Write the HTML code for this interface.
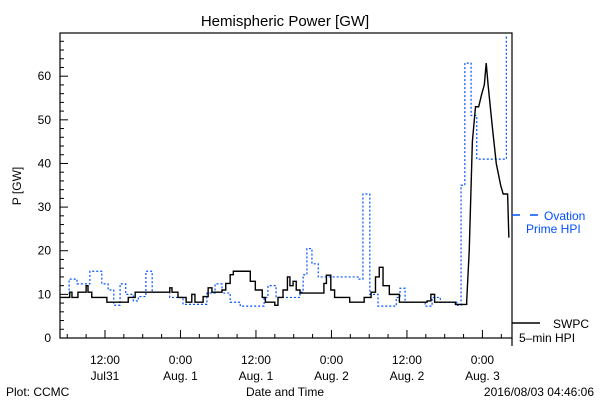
<!DOCTYPE html>
<html><head><meta charset="utf-8"><style>
body{margin:0;background:#fff}
svg text{font-family:"Liberation Sans",sans-serif;font-size:12px}
</style></head><body>
<svg width="600" height="400" xmlns="http://www.w3.org/2000/svg">
<rect width="600" height="400" fill="#fff"/>
<text x="285" y="26" text-anchor="middle" style="font-size:15px">Hemispheric Power [GW]</text>
<text transform="translate(21,186) rotate(-90)" text-anchor="middle">P [GW]</text>
<text x="285" y="396" text-anchor="middle">Date and Time</text>
<text x="6" y="396">Plot: CCMC</text>
<text x="594" y="396" text-anchor="end">2016/08/03 04:46:06</text>
<g id="axes"></g>
<g id="series"></g>
<g>
<line x1="512" y1="215" x2="520" y2="215" stroke="#0050ff" stroke-width="1.5"/>
<line x1="530" y1="215" x2="538" y2="215" stroke="#0050ff" stroke-width="1.5"/>
<text x="544" y="220" fill="#0050ff">Ovation</text>
<text x="526" y="233" fill="#0050ff">Prime HPI</text>
</g>
<g>
<line x1="512" y1="323" x2="540" y2="323" stroke="#000" stroke-width="1.5"/>
<text x="553" y="328">SWPC</text>
<text x="519" y="342">5–min HPI</text>
</g>
</svg>
<script>
const yTicks=[0,10,20,30,40,50,60];
const xTickHours=[12,24,36,48,60,72];
const xTickTop=["12:00","0:00","12:00","0:00","12:00","0:00"];
const xTickBottom=["Jul31","Aug. 1","Aug. 1","Aug. 2","Aug. 2","Aug. 3"];
const swpcHours=[4.85,6.4,6.75,7.7,9.0,9.3,9.9,12.3,15.7,16.8,22.3,22.65,23.6,24.9,25.8,26.3,27.6,28.4,29.0,30.6,31.2,31.9,32.4,34.3,35.1,35.9,37.0,37.5,39.0,39.5,40.3,41.0,41.4,41.9,42.4,43.0,46.2,46.8,47.2,47.9,48.5,50.1,50.9,53.2,54.3,55.0,55.6,56.2,57.2,58.8,63.2,63.8,64.4,67.7,69.5,69.9,70.4,70.9,71.4,71.9,72.3,72.6,72.9,73.6,74.2,74.9,75.3,76.0,76.2];
const swpcValues=[9.3,10.5,9.3,10.5,12,10.5,9.3,8.2,9.3,10.5,11.5,10.5,9.3,8.2,10,8.2,9.5,11.5,10.5,11,12.5,14.5,15.3,15.3,13,11,9.3,8.2,7.5,9.3,11,14,12,13,11,10.3,10.3,12.5,14.4,11,9.3,9.3,8.2,9.3,10.5,14,16.2,12,10,8.2,8.5,10,8.2,7.7,8.5,20,45,53,53,56,58,63,58,48,40,35,33,33,23];
const ovationHours=[4.85,6.3,7.55,9.6,11.5,12.5,13.4,14.4,15.3,16.5,17.3,18.5,19.5,22.3,24.4,28.2,29.5,30.6,31.9,33.5,37.3,37.9,39.2,43.0,43.5,44.1,44.9,45.9,52.2,53.0,54.1,55.4,58.3,58.9,59.7,62.9,64.0,65.3,67.9,68.6,69.2,70.2,71.1,75.8,76.1];
const ovationValues=[9.3,13.5,12.4,15.3,12.4,11,7.5,12.4,10,8.5,9.5,15.3,10.5,9.3,7.7,10.3,12.4,10.3,8.2,7.3,9.3,12,9.3,10.5,14.5,20.5,17,14,13.5,33,10,7.3,9.3,11.4,8.2,7.3,9.3,8.2,7.5,35,63,51,41,69,69];
const L=60,R=512,T=33,B=338,h0=4.85,h1=76.7,vMax=69.9;
const xS=h=>L+(h-h0)*(R-L)/(h1-h0);
const yS=v=>B-v*(B-T)/vMax;
const NS="http://www.w3.org/2000/svg";
const ax=document.getElementById('axes'),sg=document.getElementById('series');
function mk(p,tag,attrs){const e=document.createElementNS(NS,tag);for(const k in attrs)e.setAttribute(k,attrs[k]);p.appendChild(e);return e;}
const frame=mk(ax,'rect',{x:L,y:T,width:R-L,height:B-T,fill:'none',stroke:'#000','stroke-width':1.2});


const ext=mk(ax,'line',{x1:R,x2:R,y1:B,y2:346,stroke:'#000','stroke-width':1.2});


for(let v=0;v<=vMax;v+=2){const big=v%10===0;const t=mk(ax,'line',{x1:L,x2:L+(big?8:4),y1:yS(v),y2:yS(v),stroke:'#000'});

}
yTicks.forEach(v=>{const t=mk(ax,'text',{x:L-9,y:yS(v)+4,'text-anchor':'end'});t.textContent=v;

});
for(let h=6;h<h1;h+=3){const big=h%12===0;const t=mk(ax,'line',{x1:xS(h),x2:xS(h),y1:B,y2:B-(big?8:4),stroke:'#000'});

}
xTickHours.forEach((h,i)=>{const a=mk(ax,'text',{x:xS(h),y:364,'text-anchor':'middle'});a.textContent=xTickTop[i];


const b=mk(ax,'text',{x:xS(h),y:380,'text-anchor':'middle'});b.textContent=xTickBottom[i];

});
function stepPath(hs,vs){let d='M'+xS(hs[0])+','+yS(vs[0]);for(let i=1;i<hs.length;i++){d+='H'+xS(hs[i])+'V'+yS(vs[i]);}return d;}
const ov=mk(sg,'path',{d:stepPath(ovationHours,ovationValues),fill:'none',stroke:'#0050ff','stroke-width':1.2,'stroke-dasharray':'2,2'});


let d='M'+xS(swpcHours[0])+','+yS(swpcValues[0]);
for(let i=1;i<swpcHours.length;i++){const storm=swpcHours[i]>69.8;d+=storm?'L'+xS(swpcHours[i])+','+yS(swpcValues[i]):'H'+xS(swpcHours[i])+'V'+yS(swpcValues[i]);}
const sw=mk(sg,'path',{d:d,fill:'none',stroke:'#000','stroke-width':1.4});


</script>
</body></html>
